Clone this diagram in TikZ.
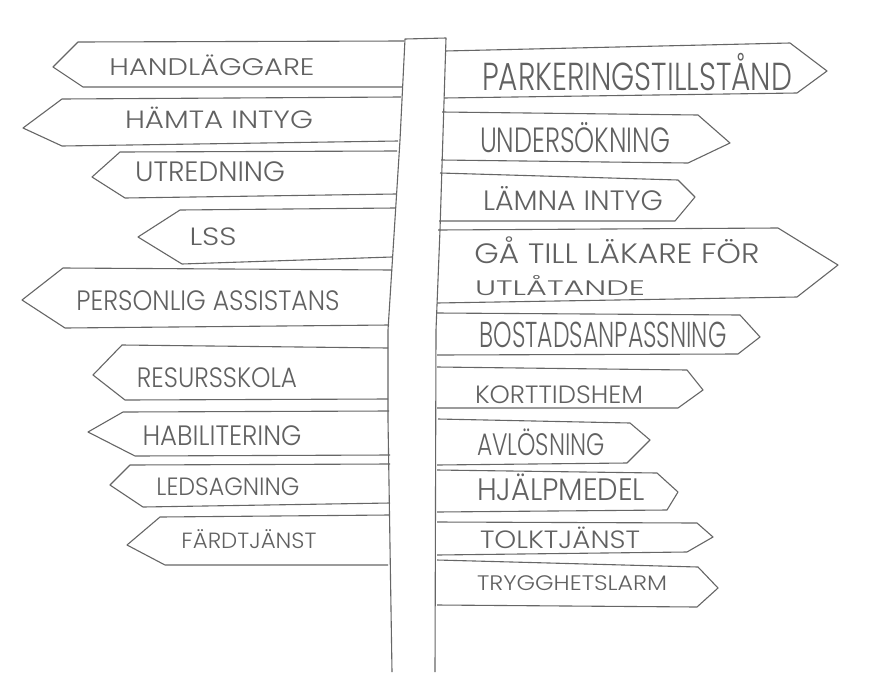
\documentclass[tikz,border=0pt]{standalone}
\usepackage{fontspec}
\IfFontExistsTF{Poppins Light}
  {\setmainfont{Poppins Light}}
  {\IfFontExistsTF{Lato Light}
    {\setmainfont{Lato Light}}
    {\setmainfont{Open Sans}}}
\usepackage{graphicx}
\tikzset{
  pencil/.style={draw=black!60, line width=1.1pt, line join=round},
  signtext/.style={text=black!62, inner sep=0pt, anchor=base},
}
\begin{document}
\begin{tikzpicture}[x=1pt,y=-1pt]
  \useasboundingbox[fill=white] (0,0) rectangle (869,672);
  % the post
  \draw[pencil] (392,672) -- (388,420) -- (388,330) -- (400,140) -- (405,39)
    -- (446,38) -- (440,230) -- (436,330) -- (435,672);
  % signs pointing left: post end, corner, tip, corner, post end, text
  \foreach \n/\ex/\ey/\tx/\ty/\px/\py/\bx/\by/\fx/\fy/\cx/\cy/\w/\fs/\txt in {
    handl/404/41/78/42/53/67/83/87/402/87/212/75/205/24/HANDLÄGGARE,
    hamta/401/97/62/99/23/128/62/146/398/141/219/128/188/25/HÄMTA INTYG,
    utred/397/151/120/152/92/177/125/198/396/194/210/181/150/28/UTREDNING,
    lss/395/208/180/210/138/237/182/264/392/257/213/245/47/25/LSS,
    perso/392/270/63/268/22/300/65/328/389/325/208/310/263/28/PERSONLIG ASSISTANS,
    resur/388/348/122/345/93/375/125/400/388/399/217/387/160/28/RESURSSKOLA,
    habil/389/411/123/412/88/432/135/456/390/455/222/445/159/28/HABILITERING,
    ledsa/390/464/130/465/110/485/143/507/390/503/228/495/143/25/LEDSAGNING,
    fardt/389/515/160/517/127/545/165/565/388/565/249/548/135/22/FÄRDTJÄNST%
  }{
    \draw[pencil] (\ex,\ey) -- (\tx,\ty) -- (\px,\py) -- (\bx,\by) -- (\fx,\fy);
    \node[signtext, font=\fontsize{\fs}{\fs}\selectfont] (\n) at (\cx,\cy)
      {\resizebox{\w pt}{\height}{\txt}};
  }
  % signs pointing right
  \foreach \n/\ex/\ey/\tx/\ty/\px/\py/\bx/\by/\fx/\fy/\cx/\cy/\w/\fs/\txt in {
    parke/445/51/790/43/827/71/797/93/444/98/637/90/310/39/PARKERINGSTILLSTÅND,
    under/442/112/698/115/730/143/688/163/441/160/575/152/190/35/UNDERSÖKNING,
    lamna/440/173/678/180/695/197/675/221/439/221/573/210/180/28/LÄMNA INTYG,
    gatil/438/230/778/228/838/265/797/297/437/303/617/263/285/28/GÅ TILL LÄKARE FÖR,
    bosta/437/313/740/315/760/337/738/354/437/355/603/347/247/36/BOSTADSANPASSNING,
    kortt/437/367/687/370/703/390/678/408/437/408/559/403/168/25/KORTTIDSHEM,
    avlos/438/419/630/423/650/440/627/463/437/465/541/455/128/31/AVLÖSNING,
    hjalp/437/470/657/473/678/492/667/510/437/512/561/500/168/31/HJÄLPMEDEL,
    tolkt/437/522/697/523/713/537/687/552/437/555/560/548/160/25/TOLKTJÄNST,
    trygg/437/560/698/567/718/588/697/607/437/605/572/590/190/21/TRYGGHETSLARM%
  }{
    \draw[pencil] (\ex,\ey) -- (\tx,\ty) -- (\px,\py) -- (\bx,\by) -- (\fx,\fy);
    \node[signtext, font=\fontsize{\fs}{\fs}\selectfont] (\n) at (\cx,\cy)
      {\resizebox{\w pt}{\height}{\txt}};
  }
  % second line of the long sign
  \node[signtext, font=\fontsize{21}{21}\selectfont] (utlat) at (560,295)
    {\resizebox{170pt}{\height}{UTLÅTANDE}};
\end{tikzpicture}
\end{document}
